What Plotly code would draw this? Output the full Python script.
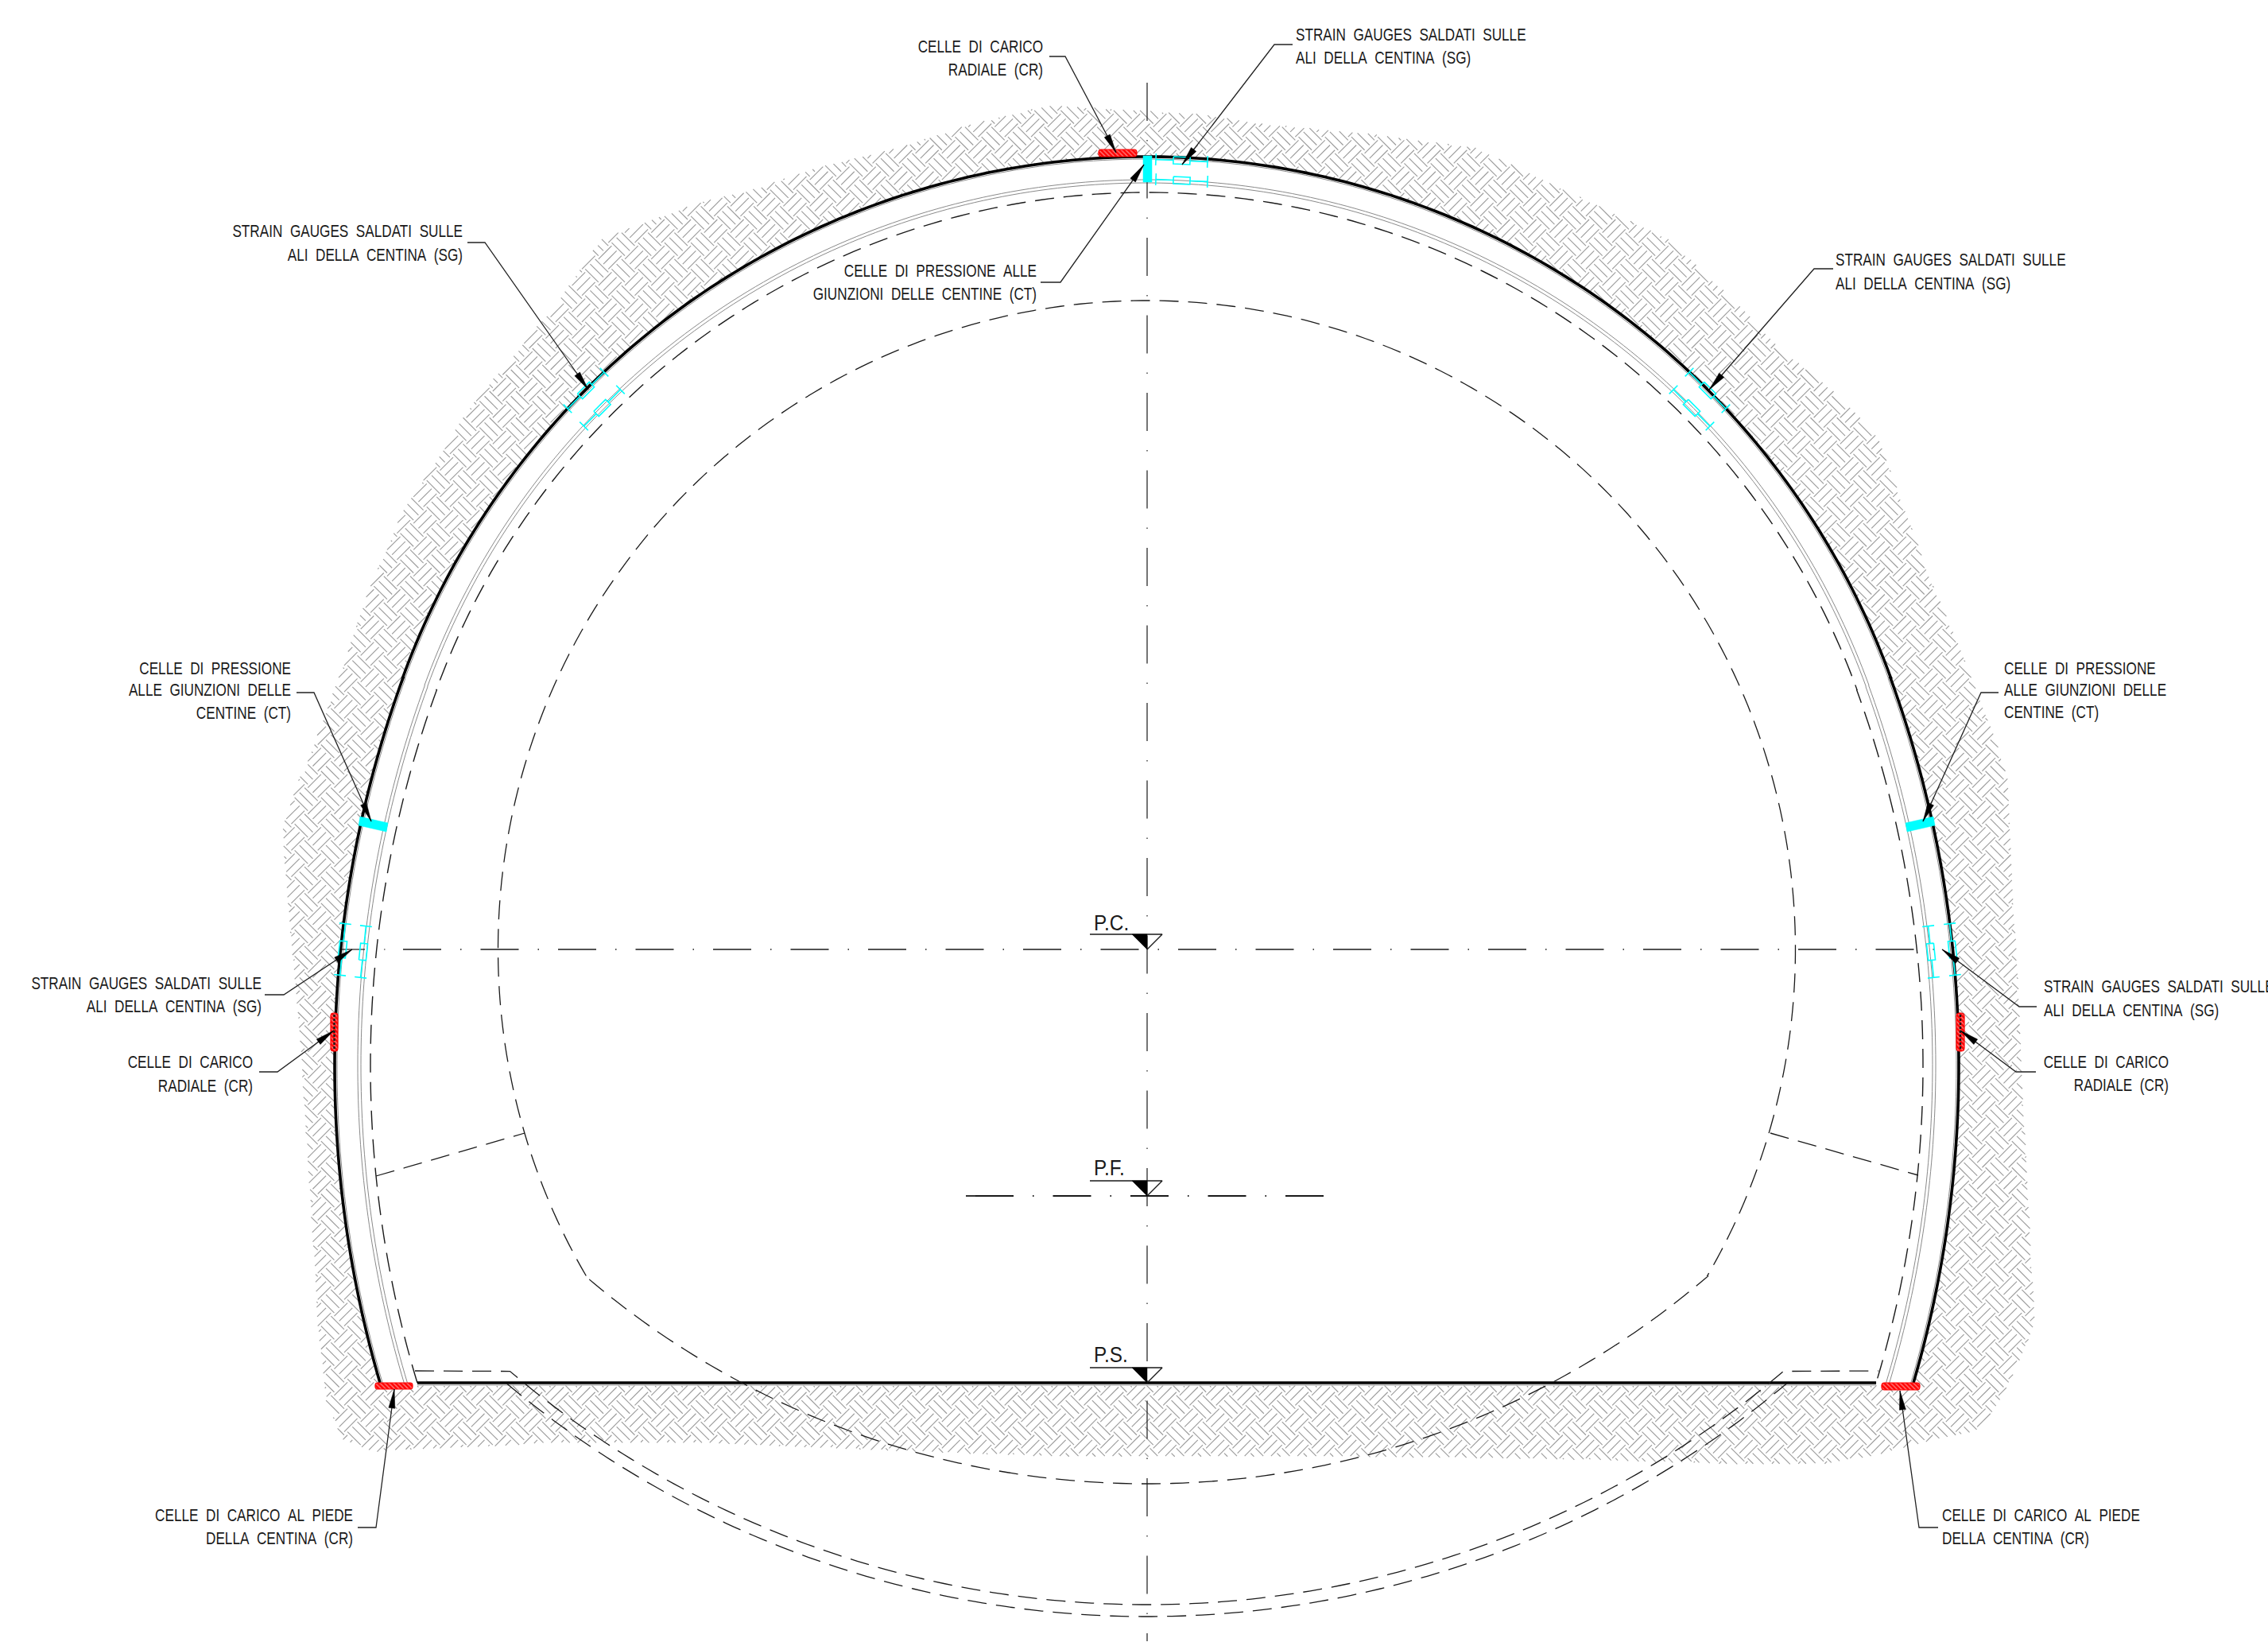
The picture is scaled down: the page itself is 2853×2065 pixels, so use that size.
import numpy as np
import plotly.graph_objects as go

W, H = 2853, 2065
FONT = "Liberation Sans"
TEXT_SIZE = 22
INK = "#1a1a1a"
GREY = "#9a9a9a"
CYAN = "#00ffff"
RED = "#ff0000"
LONG_DASH = "24px,12px"
CENTER_DASH = "48px,24px,1.5px,24px"

# --- tunnel geometry (image pixels) ---
AXIS_X = 1442.5
CROWN_CENTER_Y = 1193
CROWN_RADIUS = 996
SIDE_CENTER = (403.5, 1340)      # offset from the axis, level
SIDE_RADIUS = 1425
BASE_Y = 1739
LINING_OFFSETS = [3, 29, 33]
DASHED_OFFSET = 45
CLEAR_RADIUS = 816
CLEAR_CENTER_Y = 1194
CLEAR_END = (706, 1605)
FLOOR_RADIUS = 1085
FLOOR_CENTER_Y = 781
INVERT_UPPER = (1240, 778, 801)
INVERT_LOWER = (1252, 781, 805)
CHORD_LEFT_X = [473, 660]
CHORD_LEFT_Y = [1479, 1425]
CHORD_RIGHT_X = [2227, 2413]
CHORD_RIGHT_Y = [1425, 1478]

# --- outline of the ground hatch ---
GROUND_X = [467, 430, 410, 400, 393, 383, 378, 368, 363, 358, 355, 380, 373, 428, 461, 505, 542, 593, 652, 703,
            755, 813, 887, 946, 1034, 1129, 1217, 1320, 1404, 1506, 1587, 1733, 1858, 1954, 2027, 2100, 2174,
            2247, 2320, 2364, 2394, 2430, 2467, 2512, 2526, 2530, 2533, 2540, 2545, 2553, 2560, 2540, 2513,
            2493, 2433, 2367, 2300, 2200, 1944, 1657, 1322, 1131, 891, 700]
GROUND_Y = [1826, 1811, 1762, 1677, 1556, 1404, 1314, 1205, 1156, 1095, 1041, 968, 995, 846, 749, 645, 588, 508,
            439, 376, 301, 278, 252, 238, 209, 186, 157, 132, 137, 143, 155, 169, 186, 232, 266, 301, 370, 444,
            502, 553, 634, 731, 818, 934, 981, 1063, 1132, 1253, 1374, 1526, 1665, 1714, 1768, 1798, 1811, 1829,
            1841, 1842, 1835, 1832, 1832, 1825, 1815, 1815]
HATCH_UNIT = 94                      # px per pattern unit of the "earth" hatch
HATCH_ORIGIN = (300, 2000)

# --- text ---
LABEL_TEXT = [
    "CELLE DI CARICO", "RADIALE (CR)",
    "STRAIN GAUGES SALDATI SULLE", "ALI DELLA CENTINA (SG)",
    "CELLE DI PRESSIONE ALLE", "GIUNZIONI DELLE CENTINE (CT)",
    "STRAIN GAUGES SALDATI SULLE", "ALI DELLA CENTINA (SG)",
    "STRAIN GAUGES SALDATI SULLE", "ALI DELLA CENTINA (SG)",
    "CELLE DI PRESSIONE", "ALLE GIUNZIONI DELLE", "CENTINE (CT)",
    "CELLE DI PRESSIONE", "ALLE GIUNZIONI DELLE", "CENTINE (CT)",
    "STRAIN GAUGES SALDATI SULLE", "ALI DELLA CENTINA (SG)",
    "STRAIN GAUGES SALDATI SULLE", "ALI DELLA CENTINA (SG)",
    "CELLE DI CARICO", "RADIALE (CR)",
    "CELLE DI CARICO", "RADIALE (CR)",
    "CELLE DI CARICO AL PIEDE", "DELLA CENTINA (CR)",
    "CELLE DI CARICO AL PIEDE", "DELLA CENTINA (CR)",
]
LABEL_X = [1312, 1312, 1630, 1630, 1304, 1304, 582, 582, 2309, 2309, 366, 366, 366, 2521, 2521, 2521,
           329, 329, 2571, 2571, 318, 318, 2728, 2728, 444, 444, 2443, 2443]
LABEL_Y = [60, 89, 45, 74, 342, 371, 292, 322, 328, 358, 842, 869, 898, 842, 869, 897,
           1238, 1267, 1242, 1272, 1337, 1367, 1337, 1366, 1907, 1936, 1907, 1936]
LABEL_ANCHOR = ["right", "right", "left", "left", "right", "right", "right", "right", "left", "left",
                "right", "right", "right", "left", "left", "left", "right", "right", "left", "left",
                "right", "right", "right", "right", "right", "right", "left", "left"]
LEVEL_TEXT = ["P.C.", "P.F.", "P.S."]
LEVEL_TIP_Y = [1194, 1504, 1739]
LEVEL_TEXT_Y = [1163, 1471, 1706]

# --- leaders: polyline ending at the arrow tip ---
LEADER_X = [[1320, 1340, 1404], [1626, 1603, 1487], [1309, 1334, 1439], [588, 610, 740], [2306, 2282, 2150],
            [373, 395, 467], [2514, 2492, 2419], [333, 357, 443], [2562, 2540, 2443],
            [326, 349, 420], [2561, 2536, 2466], [450, 473, 496], [2438, 2414, 2390]]
LEADER_Y = [[71, 71, 192], [56, 56, 207], [355, 355, 207], [305, 305, 490], [338, 338, 490],
            [871, 871, 1033], [871, 871, 1033], [1251, 1251, 1194], [1266, 1266, 1194],
            [1348, 1348, 1296], [1348, 1348, 1296], [1921, 1921, 1747], [1921, 1921, 1749]]

# --- instruments ---
LOAD_PAD_X0 = [1382, 416, 2461, 472, 2367]
LOAD_PAD_X1 = [1430, 425, 2471, 519, 2415]
LOAD_PAD_Y0 = [188, 1274, 1274, 1739, 1739]
LOAD_PAD_Y1 = [197, 1322, 1322, 1747, 1748]
JOINT_X = [[1438, 1449, 1449, 1438], [453, 488, 486, 451], [2432, 2397, 2399, 2434]]
JOINT_Y = [[196, 196, 229, 229], [1027, 1035, 1046, 1038], [1027, 1035, 1046, 1038]]
GAUGE_CX = [1486.5, 1486.5, 737, 757.5, 2148, 2128, 431, 457, 2456, 2429]
GAUGE_CY = [202, 227, 491, 513, 491, 513, 1194, 1197, 1194, 1197]
GAUGE_ANGLE = [2.5, 2.5, -45, -45, 45, 45, -84, -84, 84, 84]

fig = go.Figure()


def line(x, y, color=INK, width=1.3, dash=None):
    fig.add_trace(go.Scatter(x=list(x), y=list(y), mode="lines", hoverinfo="skip", showlegend=False,
                             line=dict(color=color, width=width, dash=dash, simplify=False)))


def solid(x, y, color):
    fig.add_trace(go.Scatter(x=list(x), y=list(y), mode="lines", fill="toself", fillcolor=color,
                             hoverinfo="skip", showlegend=False, line=dict(color=color, width=0.5)))


def label(x, y, text, pos, size):
    fig.add_trace(go.Scatter(x=[x], y=[y], mode="text", text=[text], textposition=pos, hoverinfo="skip",
                             showlegend=False, cliponaxis=False,
                             textfont=dict(family=FONT, size=size, color=INK)))


def arch(offset):
    """Three-centred arch at a given inward offset, left foot to right foot."""
    sx, sy = AXIS_X + SIDE_CENTER[0], SIDE_CENTER[1]
    r2 = SIDE_RADIUS - offset
    r1 = CROWN_RADIUS - offset
    phi = np.arctan2(CROWN_CENTER_Y - sy, AXIS_X - sx) + 2 * np.pi    # towards the tangency
    foot = np.arctan2(BASE_Y - sy, -np.sqrt(r2 ** 2 - (BASE_Y - sy) ** 2))
    a = np.linspace(foot, phi, 80)
    lx, ly = sx + r2 * np.cos(a), sy + r2 * np.sin(a)
    b = np.linspace(phi, 3 * np.pi - phi, 200)
    cx, cy = AXIS_X + r1 * np.cos(b), CROWN_CENTER_Y + r1 * np.sin(b)
    rx, ry = 2 * AXIS_X - lx[::-1], ly[::-1]
    return np.r_[lx, cx, rx], np.r_[ly, cy, ry]


def inside(px, py, vx, vy):
    """Even-odd test of points against a closed polygon."""
    res = np.zeros(px.shape, bool)
    vx2, vy2 = np.roll(vx, 1), np.roll(vy, 1)
    for x1, y1, x2, y2 in zip(vx, vy, vx2, vy2):
        if y1 == y2:
            continue
        cond = (y1 > py) != (y2 > py)
        res ^= cond & (px < (x2 - x1) * (py - y1) / (y2 - y1) + x1)
    return res


def ground_hatch():
    """CAD 'earth' pattern, turned by 45 degrees, clipped to the ground band."""
    ox, oy = np.array(GROUND_X, float), np.array(GROUND_Y, float)
    ax, ay = arch(0)
    ix = np.r_[ax[::3], ax[-1], ax[-1], ax[0]]
    iy = np.r_[ay[::3], ay[-1], BASE_Y + 3, BASE_Y + 3]
    u = HATCH_UNIT
    fams = [(45.0, 0.0, 0.0), (45.0, 0.0, 0.09375), (45.0, 0.0, 0.1875),
            (135.0, 0.03125, 0.21875), (135.0, 0.125, 0.21875), (135.0, 0.21875, 0.21875)]
    rot = np.radians(45.0)
    t = np.linspace(0, 1, 13)
    xs, ys = [], []
    for ang, p, q in fams:
        c, s = np.cos(np.radians(ang)), np.sin(np.radians(ang))
        ox0 = p * np.cos(rot) - q * np.sin(rot)
        oy0 = p * np.sin(rot) + q * np.cos(rot)
        n, k = np.meshgrid(np.arange(-190, 191), np.arange(-190, 191), indexing="ij")
        along = 0.25 * n + 0.5 * k
        perp = 0.25 * n
        bx = HATCH_ORIGIN[0] + u * (ox0 + along * c - perp * s)
        by = HATCH_ORIGIN[1] - u * (oy0 + along * s + perp * c)
        ex = bx + 0.25 * u * c
        ey = by - 0.25 * u * s
        keep = (np.maximum(bx, ex) > ox.min()) & (np.minimum(bx, ex) < ox.max()) & \
               (np.maximum(by, ey) > oy.min()) & (np.minimum(by, ey) < oy.max())
        bx, by, ex, ey = bx[keep], by[keep], ex[keep], ey[keep]
        px = bx[:, None] + (ex - bx)[:, None] * t
        py = by[:, None] + (ey - by)[:, None] * t
        ok = inside(px, py, ox, oy) & ~inside(px, py, ix, iy)
        hit = ok.any(axis=1)
        first = ok.argmax(axis=1)
        last = 12 - ok[:, ::-1].argmax(axis=1)
        for i in np.nonzero(hit)[0]:
            a, b = first[i], last[i]
            if a == b:
                continue
            xs += [px[i, a], px[i, b], None]
            ys += [py[i, a], py[i, b], None]
    return xs, ys


# ground
hx, hy = ground_hatch()
line(hx, hy, GREY, 1.1)

# arch lines
ax0, ay0 = arch(0)
for off in LINING_OFFSETS:
    ax, ay = arch(off)
    line(ax, ay, "#8a8a8a", 1.0)
line(ax0, ay0, "#000000", 3.6)
ax, ay = arch(DASHED_OFFSET)
line(ax, ay, INK, 1.4, LONG_DASH)

# invert / base
xl, xr = ax[0], ax[-1]
line([xl, xr], [BASE_Y + 3, BASE_Y + 3], GREY, 1.2)
line([xl, xr], [BASE_Y, BASE_Y], "#000000", 3.6)

# clearance outline: circle + floor
sweep = np.arctan2(CLEAR_END[1] - CLEAR_CENTER_Y, -CLEAR_END[0])
a = np.linspace(sweep, 3 * np.pi - sweep, 300)
cx, cy = AXIS_X + CLEAR_RADIUS * np.cos(a), CLEAR_CENTER_Y + CLEAR_RADIUS * np.sin(a)
a2 = np.arcsin(CLEAR_END[0] / FLOOR_RADIUS)
b = np.linspace(a2, -a2, 120)
fx, fy = AXIS_X + FLOOR_RADIUS * np.sin(b), FLOOR_CENTER_Y + FLOOR_RADIUS * np.cos(b)
line(np.r_[cx, fx], np.r_[cy, fy], INK, 1.3, LONG_DASH)
line(CHORD_LEFT_X, CHORD_LEFT_Y, INK, 1.3, LONG_DASH)
line(CHORD_RIGHT_X, CHORD_RIGHT_Y, INK, 1.3, LONG_DASH)

# double invert
rad, cyv, half = INVERT_UPPER
a3 = np.arcsin(half / rad)
b = np.linspace(a3, -a3, 140)
ix_, iy_ = AXIS_X - rad * np.sin(b), cyv + rad * np.cos(b)
line(np.r_[522, ix_, 2 * AXIS_X - 522], np.r_[1724, iy_, 1724], INK, 1.3, LONG_DASH)
rad, cyv, half = INVERT_LOWER
a3 = np.arcsin(half / rad)
b = np.linspace(a3, -a3, 140)
line(AXIS_X - rad * np.sin(b), cyv + rad * np.cos(b), INK, 1.3, LONG_DASH)

# centre lines
line([1443, 1443], [104, 2064], INK, 1.2, CENTER_DASH)
line([430, 459, None, 483, 484.5], [1194, 1194, None, 1194, 1194], INK, 1.2)
line([507, 2450], [1194, 1194], INK, 1.3, CENTER_DASH)
line([1215, 1227], [1504, 1504], INK, 1.8)
line([1227, 1672], [1504, 1504], INK, 1.8, CENTER_DASH)

# level markers
for name, tip, ty in zip(LEVEL_TEXT, LEVEL_TIP_Y, LEVEL_TEXT_Y):
    top = tip - 19
    line([1371, 1462, 1443], [top, top, tip], INK, 1.4)
    solid([1424, 1443, 1443, 1424], [top, top, tip, top], "#000000")
    label(1376, ty, name, "middle right", 27)

# joints
for jx, jy in zip(JOINT_X, JOINT_Y):
    solid(jx + jx[:1], jy + jy[:1], CYAN)

# strain gauges
for gx, gy, ang in zip(GAUGE_CX, GAUGE_CY, GAUGE_ANGLE):
    c, s_ = np.cos(np.radians(ang)), np.sin(np.radians(ang))
    local = lambda u, v: (gx + u * c - v * s_, gy + u * s_ + v * c)
    p0, p1 = local(-32.5, 0), local(32.5, 0)
    line([p0[0], local(-10.5, 0)[0], None, local(10.5, 0)[0], p1[0]],
         [p0[1], local(-10.5, 0)[1], None, local(10.5, 0)[1], p1[1]], CYAN, 1.6)
    for u in (-32.5, 32.5):
        p0, p1 = local(u, -7.5), local(u, 7.5)
        line([p0[0], p1[0]], [p0[1], p1[1]], CYAN, 1.6)
    corners = [local(-10.5, -4.5), local(10.5, -4.5), local(10.5, 4.5), local(-10.5, 4.5), local(-10.5, -4.5)]
    line([q[0] for q in corners], [q[1] for q in corners], CYAN, 1.6)

# load cells
for x0, x1, y0, y1 in zip(LOAD_PAD_X0, LOAD_PAD_X1, LOAD_PAD_Y0, LOAD_PAD_Y1):
    r = min(x1 - x0, y1 - y0) * 0.35
    th = np.linspace(0, np.pi / 2, 6)
    px = np.r_[x1 - r + r * np.cos(th), x0 + r - r * np.sin(th), x0 + r - r * np.cos(th), x1 - r + r * np.sin(th)]
    py = np.r_[y1 - r + r * np.sin(th), y1 - r + r * np.cos(th), y0 + r - r * np.sin(th), y0 + r - r * np.cos(th)]
    fig.add_trace(go.Scatter(x=np.r_[px, px[0]], y=np.r_[py, py[0]], mode="lines", fill="toself",
                             fillcolor=RED, fillpattern=dict(shape="\\", size=4, solidity=0.35,
                                                             fgcolor="#ffffff", bgcolor=RED),
                             line=dict(color=RED, width=1.2), hoverinfo="skip", showlegend=False))
    if y1 - y0 > 20:
        xc = (x0 + x1) / 2
        line([xc, xc], [y0 + 2, y1 - 2], "#1a1a1a", 2.4, "3px,2px")

# leaders and arrowheads
HEAD_LEN, HEAD_W = 24, 8
for lx, ly in zip(LEADER_X, LEADER_Y):
    line(lx, ly, "#222222", 1.3)
    dx, dy = lx[-1] - lx[-2], ly[-1] - ly[-2]
    n = np.hypot(dx, dy)
    dx, dy = dx / n, dy / n
    bx, by = lx[-1] - HEAD_LEN * dx, ly[-1] - HEAD_LEN * dy
    solid([lx[-1], bx - dy * HEAD_W / 2, bx + dy * HEAD_W / 2, lx[-1]],
          [ly[-1], by + dx * HEAD_W / 2, by - dx * HEAD_W / 2, ly[-1]], "#000000")

# labels
for txt, x, y, anchor in zip(LABEL_TEXT, LABEL_X, LABEL_Y, LABEL_ANCHOR):
    label(x, y, txt.replace(" ", "\u00a0\u00a0"), "middle left" if anchor == "right" else "middle right", TEXT_SIZE)

fig.update_layout(width=W, height=H, margin=dict(l=0, r=0, t=0, b=0), paper_bgcolor="white", plot_bgcolor="white",
                  showlegend=False,
                  xaxis=dict(range=[0, W], visible=False, fixedrange=True),
                  yaxis=dict(range=[H, 0], visible=False, fixedrange=True))
CONDENSE = """
document.body.style.margin='0';document.body.style.overflow='hidden';
document.querySelectorAll('.textpoint text').forEach(function(t){
  var f = t.textContent.indexOf('P.') === 0 ? 0.9 : 0.78;
  t.setAttribute('lengthAdjust','spacingAndGlyphs');
  t.setAttribute('textLength', t.getComputedTextLength()*f);
});
"""
fig.write_html("out.html", post_script=CONDENSE, config=dict(displayModeBar=False))
